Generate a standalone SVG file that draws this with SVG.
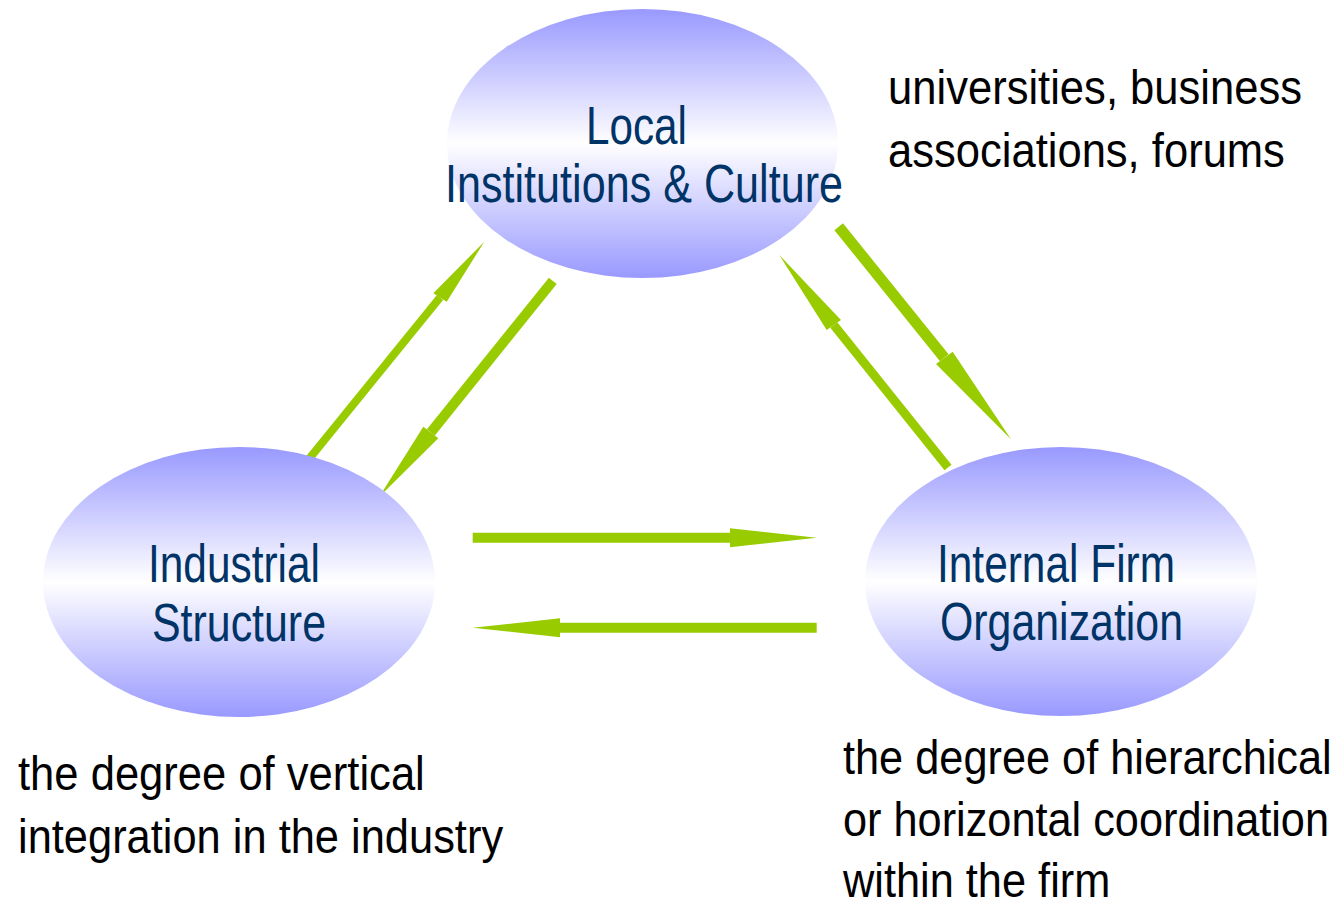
<svg xmlns="http://www.w3.org/2000/svg" width="1341" height="908" viewBox="0 0 1341 908">
  <defs>
    <linearGradient id="nodeGrad" x1="0" y1="0" x2="0" y2="1">
      <stop offset="0" stop-color="#9999FF"/>
      <stop offset="0.5" stop-color="#FFFFFF"/>
      <stop offset="1" stop-color="#9999FF"/>
    </linearGradient>
    <style>
      .node { fill: url(#nodeGrad); stroke: none; }
      .label { font-family: "Liberation Sans", Arial, sans-serif; font-size: 53px; fill: #003366; }
      .note { font-family: "Liberation Sans", Arial, sans-serif; font-size: 48px; fill: #000000; }
      .shaft { stroke: #99CC00; stroke-linecap: butt; fill: none; }
      .head { fill: #99CC00; stroke: none; }
    </style>
  </defs>
  <rect width="1341" height="908" fill="#FFFFFF"/>

  <g id="connectors">
    <g id="edge-industrial-to-local">
      <line class="shaft" x1="303.3" y1="466" x2="440" y2="297.5" stroke-width="8"/>
      <polygon class="head" points="433.3,293.3 484.3,241.7 446.7,301.7"/>
    </g>
    <g id="edge-local-to-industrial">
      <line class="shaft" x1="552.8" y1="280.8" x2="430.8" y2="432.5" stroke-width="10"/>
      <polygon class="head" points="423.3,426.7 379.3,496.7 438.3,438.3"/>
    </g>
    <g id="edge-local-to-firm">
      <line class="shaft" x1="838.7" y1="226.7" x2="944.3" y2="357.8" stroke-width="11"/>
      <polygon class="head" points="952.7,351.7 1011,439.3 936,364"/>
    </g>
    <g id="edge-firm-to-local">
      <line class="shaft" x1="948" y1="467.5" x2="833.8" y2="325" stroke-width="9"/>
      <polygon class="head" points="841,320 779.3,255 826.7,330"/>
    </g>
    <g id="edge-industrial-to-firm">
      <line class="shaft" x1="472.7" y1="537.7" x2="731" y2="537.7" stroke-width="10"/>
      <polygon class="head" points="730,528.3 816.7,537.7 730,547.3"/>
    </g>
    <g id="edge-firm-to-industrial">
      <line class="shaft" x1="816.7" y1="627.7" x2="559" y2="627.7" stroke-width="10"/>
      <polygon class="head" points="560,618.3 472.7,627.7 560,637.3"/>
    </g>
  </g>

  <g id="node-local">
    <ellipse class="node" cx="642.5" cy="143.5" rx="195.5" ry="134.5"/>
    <text class="label" x="586" y="144" textLength="101" lengthAdjust="spacingAndGlyphs">Local</text>
    <text class="label" x="445" y="202" textLength="398" lengthAdjust="spacingAndGlyphs">Institutions &amp; Culture</text>
  </g>

  <g id="node-industrial">
    <ellipse class="node" cx="239" cy="582" rx="196" ry="135"/>
    <text class="label" x="148" y="582" textLength="172" lengthAdjust="spacingAndGlyphs">Industrial</text>
    <text class="label" x="152" y="641" textLength="174" lengthAdjust="spacingAndGlyphs">Structure</text>
  </g>

  <g id="node-firm">
    <ellipse class="node" cx="1061" cy="581.5" rx="196" ry="134.5"/>
    <text class="label" x="937" y="582" textLength="238" lengthAdjust="spacingAndGlyphs">Internal Firm</text>
    <text class="label" x="940" y="640" textLength="243" lengthAdjust="spacingAndGlyphs">Organization</text>
  </g>

  <g id="note-local">
    <text class="note" transform="translate(888 104) scale(0.9 1)" textLength="460" lengthAdjust="spacingAndGlyphs">universities, business</text>
    <text class="note" transform="translate(888 167) scale(0.9 1)" textLength="441" lengthAdjust="spacingAndGlyphs">associations, forums</text>
  </g>

  <g id="note-industrial">
    <text class="note" transform="translate(18 790) scale(0.9 1)" textLength="452" lengthAdjust="spacingAndGlyphs">the degree of vertical</text>
    <text class="note" transform="translate(18 853) scale(0.9 1)" textLength="539" lengthAdjust="spacingAndGlyphs">integration in the industry</text>
  </g>

  <g id="note-firm">
    <text class="note" transform="translate(843 774) scale(0.9 1)" textLength="543" lengthAdjust="spacingAndGlyphs">the degree of hierarchical</text>
    <text class="note" transform="translate(843 836) scale(0.9 1)" textLength="540" lengthAdjust="spacingAndGlyphs">or horizontal coordination</text>
    <text class="note" transform="translate(843 897) scale(0.9 1)" textLength="297" lengthAdjust="spacingAndGlyphs">within the firm</text>
  </g>
</svg>
